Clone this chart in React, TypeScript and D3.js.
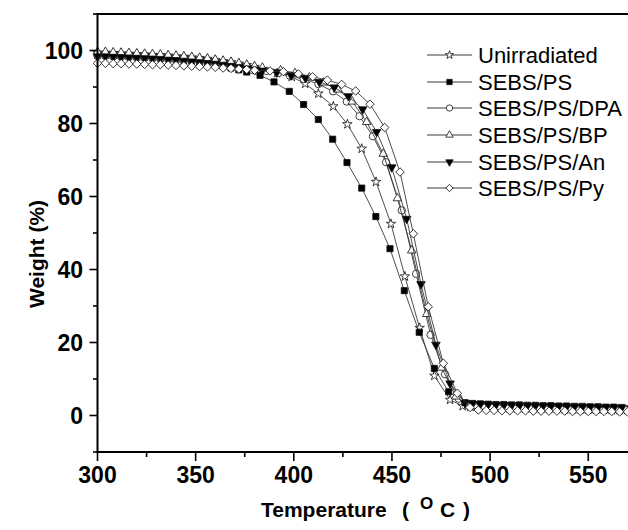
import React from 'react';
import * as d3 from 'd3';

type Pt = [number, number];

// Temperature (°C), Weight (%)
const unirradiated: Pt[] = [
  [300, 99.4], [304, 99.4], [308, 99.3], [312, 99.2], [316, 99.1], [320, 99.0], [324, 98.9], [328, 98.8],
  [332, 98.7], [336, 98.6], [340, 98.4], [344, 98.3], [348, 98.1], [352, 97.9], [356, 97.7], [360, 97.4],
  [364, 97.1], [368, 96.8], [372, 96.4], [376, 96.0], [380, 95.5], [384, 94.9], [391.5, 93.8], [398.9, 92.8],
  [405.8, 90.9], [412.5, 88.2], [420.1, 84.7], [427.3, 79.8], [434.6, 73.1], [441.9, 64.0], [449.5, 52.5],
  [456.6, 38.1], [464.1, 24.0], [471.6, 10.9], [479.6, 4.3], [486, 2.6],
  [490, 2.4], [494, 2.3], [498, 2.2], [502, 2.1], [506, 2.1], [510, 2.0], [514, 2.0], [518, 1.9], [522, 1.9],
  [526, 1.8], [530, 1.8], [534, 1.8], [538, 1.7], [542, 1.7], [546, 1.7], [550, 1.6], [554, 1.6], [558, 1.6],
  [562, 1.5], [566, 1.5], [570, 1.5],
];

const sebsPs: Pt[] = [
  [300, 98.7], [304, 98.7], [308, 98.6], [312, 98.5], [316, 98.4], [320, 98.3], [324, 98.2], [328, 98.0],
  [332, 97.9], [336, 97.7], [340, 97.5], [344, 97.3], [348, 97.1], [352, 96.8], [356, 96.5], [360, 96.1],
  [364, 95.7], [368, 95.2], [372, 94.7], [376, 94.1], [382.8, 93.2], [389.9, 91.4], [397.7, 88.8],
  [405.0, 85.2], [412.5, 81.1], [419.8, 75.7], [427.1, 69.3], [434.6, 62.3], [441.8, 54.5], [449.0, 45.7],
  [456.3, 34.2], [463.9, 22.8], [471.6, 12.9], [478.9, 6.5], [487.2, 3.5],
  [491, 3.3], [495, 3.2], [499, 3.1], [503, 3.0], [507, 3.0], [511, 2.9], [515, 2.9], [519, 2.8], [523, 2.8],
  [527, 2.7], [531, 2.7], [535, 2.6], [539, 2.6], [543, 2.5], [547, 2.5], [551, 2.4], [555, 2.4], [559, 2.3],
  [563, 2.3], [567, 2.2],
];

const sebsPsDpa: Pt[] = [
  [300, 98.5], [304, 98.5], [308, 98.4], [312, 98.3], [316, 98.2], [320, 98.1], [324, 98.0], [328, 97.9],
  [332, 97.8], [336, 97.7], [340, 97.5], [344, 97.4], [348, 97.2], [352, 97.0], [356, 96.8], [360, 96.6],
  [364, 96.3], [368, 96.0], [372, 95.7], [376, 95.3], [380, 94.9], [386, 94.4], [392, 93.8], [398, 93.1],
  [405, 92.2], [412.5, 90.8], [420, 88.8], [427, 86.0], [433.5, 82.0], [440.3, 76.5], [447, 69.4],
  [455, 56.2], [462.3, 38.8], [469.7, 22.1], [477, 11.3], [484, 4.6], [489.5, 2.8],
  [493, 2.6], [497, 2.5], [501, 2.4], [505, 2.3], [509, 2.3], [513, 2.2], [517, 2.1], [521, 2.1], [525, 2.0],
  [529, 2.0], [533, 1.9], [537, 1.9], [541, 1.8], [545, 1.8], [549, 1.8], [553, 1.7], [557, 1.7], [561, 1.7],
  [565, 1.6], [569, 1.6],
];

const sebsPsBp: Pt[] = [
  [300, 99.6], [304, 99.6], [308, 99.5], [312, 99.4], [316, 99.3], [320, 99.2], [324, 99.1], [328, 99.0],
  [332, 98.9], [336, 98.7], [340, 98.6], [344, 98.4], [348, 98.2], [352, 98.0], [356, 97.8], [360, 97.5],
  [364, 97.2], [368, 96.9], [372, 96.5], [376, 96.1], [380, 95.7], [384, 95.3], [393.3, 94.6], [400.6, 93.8],
  [407.9, 92.6], [415.2, 91.2], [422.5, 89.3], [429.8, 86.0], [437.1, 80.4], [445.6, 71.7], [452.8, 59.5],
  [460.1, 45.2], [467.7, 27.8], [475.3, 13.1], [482.5, 5.2], [489, 2.7],
  [493, 2.5], [497, 2.4], [501, 2.3], [505, 2.3], [509, 2.2], [513, 2.1], [517, 2.1], [521, 2.0], [525, 2.0],
  [529, 1.9], [533, 1.9], [537, 1.8], [541, 1.8], [545, 1.8], [549, 1.7], [553, 1.7], [557, 1.7], [561, 1.6],
  [565, 1.6], [569, 1.6],
];

const sebsPsAn: Pt[] = [
  [300, 98.4], [304, 98.4], [308, 98.3], [312, 98.2], [316, 98.1], [320, 98.0], [324, 97.9], [328, 97.8],
  [332, 97.7], [336, 97.5], [340, 97.4], [344, 97.2], [348, 97.0], [352, 96.8], [356, 96.6], [360, 96.4],
  [364, 96.1], [368, 95.8], [372, 95.5], [376, 95.1], [380, 94.8], [384, 94.5], [391.3, 94.0], [398.6, 93.2],
  [405.9, 92.5], [413.0, 91.4], [420.6, 89.9], [427.8, 87.5], [435.1, 83.9], [442.2, 77.7], [449.9, 68.0],
  [457.5, 53.9], [464.8, 36.0], [472.4, 19.4], [479.6, 8.8], [487.2, 3.5],
  [491, 3.2], [495, 3.1], [499, 3.0], [503, 2.9], [507, 2.8], [511, 2.8], [515, 2.7], [519, 2.7], [523, 2.6],
  [527, 2.6], [531, 2.5], [535, 2.5], [539, 2.4], [543, 2.4], [547, 2.3], [551, 2.3], [555, 2.2], [559, 2.2],
  [563, 2.1], [567, 2.1],
];

const sebsPsPy: Pt[] = [
  [300, 96.5], [304, 96.5], [308, 96.4], [312, 96.4], [316, 96.3], [320, 96.3], [324, 96.2], [328, 96.1],
  [332, 96.1], [336, 96.0], [340, 95.9], [344, 95.8], [348, 95.7], [352, 95.6], [356, 95.5], [360, 95.4],
  [364, 95.2], [368, 95.1], [372, 94.9], [376, 94.8], [380, 94.6], [387.9, 94.4], [394.7, 94.2],
  [402.3, 93.6], [409.6, 92.8], [417.1, 91.9], [424.4, 90.7], [431.5, 88.9], [438.8, 85.3], [446.3, 78.9],
  [454.1, 66.7], [460.9, 49.8], [468.5, 29.8], [476.2, 14.3], [483.3, 6.1], [489.8, 2.2],
  [494, 1.5], [498, 1.4], [502, 1.4], [506, 1.3], [510, 1.3], [514, 1.3], [518, 1.3], [522, 1.2], [526, 1.2],
  [530, 1.2], [534, 1.2], [538, 1.2], [542, 1.1], [546, 1.1], [550, 1.1], [554, 1.1], [558, 1.1], [562, 1.1],
  [566, 1.0], [570, 1.0],
];

const seriesNames = ['Unirradiated', 'SEBS/PS', 'SEBS/PS/DPA', 'SEBS/PS/BP', 'SEBS/PS/An', 'SEBS/PS/Py'];
const seriesData = [unirradiated, sebsPs, sebsPsDpa, sebsPsBp, sebsPsAn, sebsPsPy];

const xTicks = [300, 350, 400, 450, 500, 550];
const xMinorTicks = [325, 375, 425, 475, 525];
const yTicks = [0, 20, 40, 60, 80, 100];
const yMinorTicks = [-10, 10, 30, 50, 70, 90, 110];

type MarkerKind = 'star' | 'square' | 'circle' | 'triangle' | 'invTriangle' | 'diamond';
const markerKinds: MarkerKind[] = ['star', 'square', 'circle', 'triangle', 'invTriangle', 'diamond'];

const X0 = 97.5;
const Y_TOP = 14;
const Y_BOT = 452;

const xScale = d3.scaleLinear().domain([300, 570]).range([X0, X0 + 270 * 1.963]);
const yScale = d3.scaleLinear().domain([-10, 110]).range([Y_BOT, Y_TOP]);

function markerPath(kind: MarkerKind, scale = 1): string {
  const s = scale;
  switch (kind) {
    case 'star': return d3.symbol().type(d3.symbolStar).size(28 * s)() as string;
    case 'square': return d3.symbol().type(d3.symbolSquare).size(38 * s)() as string;
    case 'circle': return d3.symbol().type(d3.symbolCircle).size(42 * s)() as string;
    case 'triangle': return d3.symbol().type(d3.symbolTriangle).size(32 * s)() as string;
    case 'invTriangle': return d3.symbol().type(d3.symbolTriangle).size(32 * s)() as string;
    case 'diamond': return d3.symbol().type(d3.symbolSquare).size(36 * s)() as string;
  }
}

function markerTransform(kind: MarkerKind, x: number, y: number): string {
  if (kind === 'invTriangle') return `translate(${x},${y}) rotate(180)`;
  if (kind === 'diamond') return `translate(${x},${y}) rotate(45)`;
  return `translate(${x},${y})`;
}

function markerFill(kind: MarkerKind): string {
  return kind === 'square' || kind === 'invTriangle' ? '#000' : '#fff';
}

const legendRows = [55, 82, 108, 135, 162, 188];

export default function App() {
  const line = d3.line<Pt>().x((d) => xScale(d[0])).y((d) => yScale(d[1]));
  const font = 'Liberation Sans, Arial, Helvetica, sans-serif';

  return (
    <svg width={628} height={530} style={{ position: 'absolute', left: 0, top: 0, background: '#fff' }}
      fontFamily={font}>
      <rect x={0} y={0} width={628} height={530} fill="#fff" />
      {seriesData.map((data, i) => (
        <g key={seriesNames[i]}>
          <path d={line(data) as string} fill="none" stroke="#3a3a3a" strokeWidth={0.9} />
          {data.map((d, j) => (
            <path key={j} d={markerPath(markerKinds[i])}
              transform={markerTransform(markerKinds[i], xScale(d[0]), yScale(d[1]))}
              fill={markerFill(markerKinds[i])} stroke="#111" strokeWidth={0.8} />
          ))}
        </g>
      ))}
      <line x1={X0} x2={X0} y1={Y_TOP} y2={Y_BOT} stroke="#000" strokeWidth={2} />
      <line x1={X0 - 1} x2={628} y1={Y_BOT} y2={Y_BOT} stroke="#000" strokeWidth={2} />
      <line x1={X0 - 1} x2={628} y1={Y_TOP} y2={Y_TOP} stroke="#000" strokeWidth={2} />
      {xTicks.map((t) => (
        <g key={`xt${t}`}>
          <line x1={xScale(t)} x2={xScale(t)} y1={Y_BOT} y2={Y_BOT + 9} stroke="#000" strokeWidth={1.6} />
          <text x={xScale(t)} y={483} textAnchor="middle" fontSize={23} fontWeight="bold">{t}</text>
        </g>
      ))}
      {xMinorTicks.map((t) => (
        <line key={`xm${t}`} x1={xScale(t)} x2={xScale(t)} y1={Y_BOT} y2={Y_BOT + 5} stroke="#000" strokeWidth={1.6} />
      ))}
      {yTicks.map((t) => (
        <g key={`yt${t}`}>
          <line x1={X0 - 8} x2={X0} y1={yScale(t)} y2={yScale(t)} stroke="#000" strokeWidth={1.6} />
          <text x={83} y={yScale(t)} dy="0.36em" textAnchor="end" fontSize={23} fontWeight="bold">{t}</text>
        </g>
      ))}
      {yMinorTicks.map((t) => (
        <line key={`ym${t}`} x1={X0 - 4.5} x2={X0} y1={yScale(t)} y2={yScale(t)} stroke="#000" strokeWidth={1.6} />
      ))}
      <text transform="translate(44,254) rotate(-90)" textAnchor="middle" fontSize={21} fontWeight="bold">Weight (%)</text>
      <text y={517} fontSize={21} fontWeight="bold">
        <tspan x={261}>Temperature</tspan>
        <tspan x={402}>(</tspan>
        <tspan x={420} dy={-8} fontSize={17}>O</tspan>
        <tspan x={440} dy={8}>C</tspan>
        <tspan x={463}>)</tspan>
      </text>
      {seriesNames.map((name, i) => (
        <g key={`lg${name}`}>
          <line x1={427} x2={472} y1={legendRows[i]} y2={legendRows[i]} stroke="#3a3a3a" strokeWidth={1} />
          <path d={markerPath(markerKinds[i], 0.75)} transform={markerTransform(markerKinds[i], 449.5, legendRows[i])}
            fill={markerFill(markerKinds[i])} stroke="#111" strokeWidth={0.8} />
          <text x={478} y={legendRows[i]} dy="0.36em" fontSize={22}>{name}</text>
        </g>
      ))}
    </svg>
  );
}
